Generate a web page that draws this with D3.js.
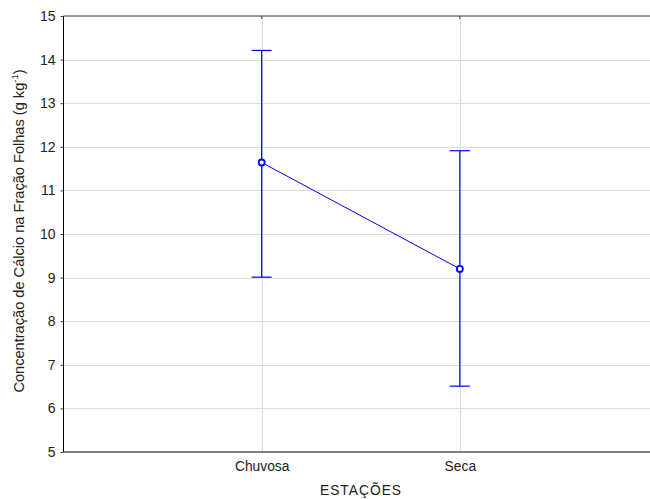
<!DOCTYPE html>
<html>
<head>
<meta charset="utf-8">
<script src="https://cdn.jsdelivr.net/npm/d3@7"></script>
<style>
  body { margin: 0; background: #fff; }
  svg text { font-family: "Liberation Sans", Arial, sans-serif; fill: #222; }
</style>
</head>
<body>
<svg id="chart" width="650" height="499"></svg>
<script>
// Calcium concentration by season: means with confidence intervals
const categories = ["Chuvosa", "Seca"];
const means = [11.64, 9.20];
const upper = [14.21, 11.91];
const lower = [9.01, 6.51];
const yTicks = [5, 6, 7, 8, 9, 10, 11, 12, 13, 14, 15];

const svg = d3.select("#chart");
const margin = { left: 63.5, top: 16, bottom: 452, right: 658 };

const x = d3.scalePoint().domain(["", ...categories, " "]).range([margin.left, margin.right]);
const y = d3.scaleLinear().domain([5, 15]).range([margin.bottom, margin.top]);

// grid
svg.append("g").selectAll("line.h").data(yTicks.slice(1, -1)).join("line")
  .attr("x1", margin.left).attr("x2", 650)
  .attr("y1", d => Math.round(y(d)) + 0.5).attr("y2", d => Math.round(y(d)) + 0.5)
  .attr("stroke", "#dcdcdc").attr("stroke-width", 1);
svg.append("g").selectAll("line.v").data(categories).join("line")
  .attr("x1", d => Math.round(x(d)) + 0.5).attr("x2", d => Math.round(x(d)) + 0.5)
  .attr("y1", margin.top).attr("y2", margin.bottom)
  .attr("stroke", "#dcdcdc").attr("stroke-width", 1);

// frame: left, bottom, top
svg.append("line").attr("x1", margin.left).attr("x2", margin.left)
  .attr("y1", margin.top).attr("y2", margin.bottom).attr("stroke", "#000");
svg.append("line").attr("x1", margin.left).attr("x2", 650)
  .attr("y1", margin.bottom).attr("y2", margin.bottom).attr("stroke", "#000");
svg.append("line").attr("x1", margin.left).attr("x2", 650)
  .attr("y1", margin.top).attr("y2", margin.top).attr("stroke", "#333");

// y axis
const yAxis = svg.append("g").attr("transform", `translate(${margin.left},0)`)
  .call(d3.axisLeft(y).tickValues(yTicks).tickSize(3).tickPadding(5).tickFormat(d3.format("d")));
yAxis.select(".domain").remove();
yAxis.selectAll(".tick line").attr("stroke", "#444");
yAxis.selectAll("text").attr("font-size", 14).attr("fill", "#222");

// x axis
const xAxis = svg.append("g").attr("transform", `translate(0,${margin.bottom})`)
  .call(d3.axisBottom(x).tickValues(categories).tickSize(0).tickPadding(9));
xAxis.select(".domain").remove();
xAxis.selectAll("text").attr("font-size", 13.8).attr("fill", "#222");

// top ticks at categories
svg.append("g").selectAll("line").data(categories).join("line")
  .attr("x1", d => x(d)).attr("x2", d => x(d))
  .attr("y1", margin.top).attr("y2", margin.top + 3).attr("stroke", "#444");

// axis titles
svg.append("text").attr("x", 361).attr("y", 495).attr("text-anchor", "middle")
  .attr("font-size", 13.8).attr("letter-spacing", "1px").text("ESTAÇÕES");

const yt = svg.append("text").attr("transform", "translate(24,231) rotate(-90)")
  .attr("text-anchor", "middle").attr("font-size", 14.6);
yt.append("tspan").text("Concentração de Cálcio na Fração Folhas (g kg");
yt.append("tspan").attr("font-size", 9.5).attr("dy", -6).text("-1");
yt.append("tspan").attr("dy", 6).text(")");

// error bars
const blue = "#0000ff";
const eb = svg.append("g");
categories.forEach((c, i) => {
  const cx = x(c);
  eb.append("line").attr("x1", cx).attr("x2", cx).attr("y1", y(upper[i])).attr("y2", y(lower[i]))
    .attr("stroke", blue).attr("stroke-width", 1.2);
  [upper[i], lower[i]].forEach(v => {
    eb.append("line").attr("x1", cx - 10).attr("x2", cx + 10).attr("y1", y(v)).attr("y2", y(v))
      .attr("stroke", blue).attr("stroke-width", 1.2);
  });
});

// mean line and markers
const pts = categories.map((c, i) => [x(c), y(means[i])]);
svg.append("path").attr("d", d3.line()(pts)).attr("fill", "none")
  .attr("stroke", blue).attr("stroke-width", 1);
svg.append("g").selectAll("circle").data(pts).join("circle")
  .attr("cx", d => d[0]).attr("cy", d => d[1]).attr("r", 3)
  .attr("fill", "#fff").attr("stroke", blue).attr("stroke-width", 1.8);
</script>
</body>
</html>
